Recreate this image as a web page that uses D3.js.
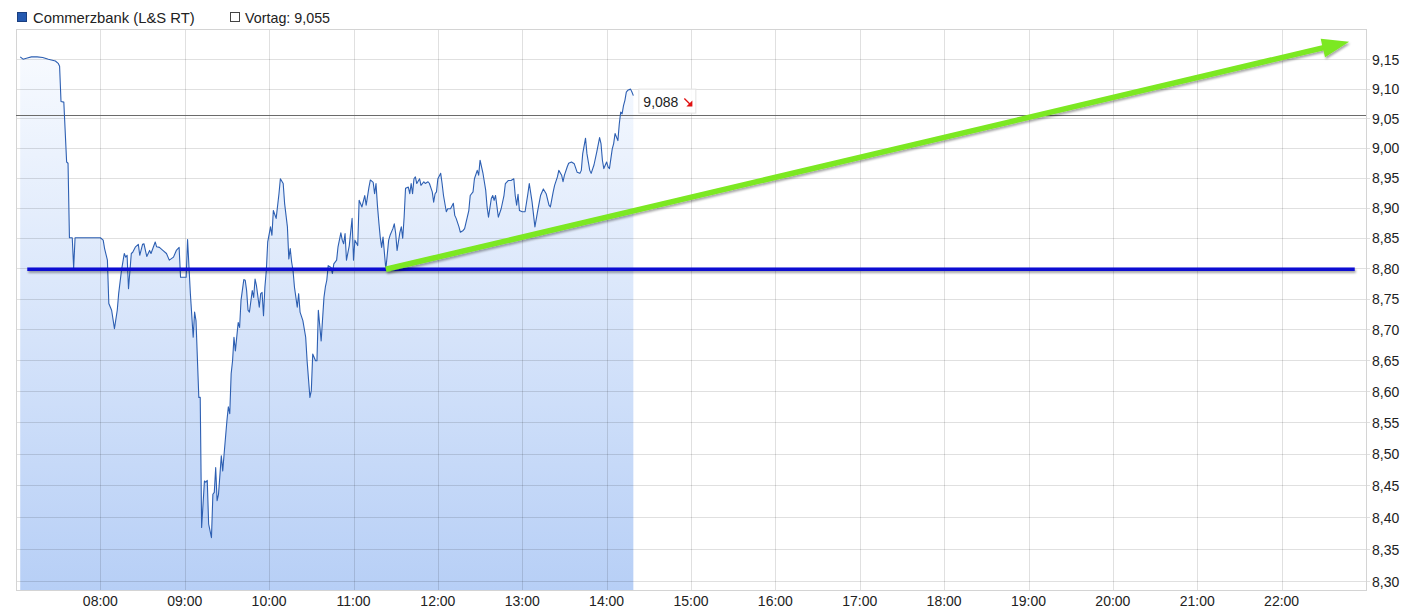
<!DOCTYPE html>
<html><head><meta charset="utf-8">
<script src="https://cdn.jsdelivr.net/npm/d3@7"></script>
<style>
body{margin:0;background:#fff;}
svg{display:block;font-family:"Liberation Sans",Arial,sans-serif;}
</style>
</head><body>
<svg id="c" width="1426" height="616"></svg>
<script>
// ---- data ----
const seriesName = "Commerzbank (L&S RT)";
const prevCloseLabel = "Vortag: 9,055";
const prevClose = 9.055;

const times = ["07:03","07:05","07:08","07:11","07:15","07:19","07:23","07:28","07:30","07:31","07:32","07:34","07:36","07:37","07:38","07:40","07:41","07:42","08:00","08:02","08:03","08:05","08:06","08:08","08:10","08:12","08:13","08:15","08:17","08:18","08:19","08:20","08:22","08:23","08:25","08:27","08:28","08:30","08:31","08:33","08:35","08:36","08:39","08:40","08:42","08:44","08:47","08:49","08:52","08:54","08:56","08:57","09:01","09:02","09:04","09:06","09:07","09:08","09:10","09:11","09:12","09:14","09:15","09:16","09:17","09:19","09:20","09:21","09:22","09:23","09:24","09:26","09:27","09:28","09:30","09:31","09:32","09:33","09:34","09:35","09:36","09:38","09:39","09:40","09:42","09:43","09:44","09:45","09:46","09:48","09:49","09:50","09:51","09:53","09:54","09:55","09:56","09:57","09:58","09:59","10:01","10:02","10:03","10:05","10:07","10:08","10:10","10:11","10:13","10:14","10:15","10:16","10:17","10:18","10:20","10:21","10:22","10:24","10:26","10:27","10:29","10:30","10:31","10:33","10:34","10:35","10:36","10:37","10:39","10:40","10:41","10:42","10:44","10:45","10:46","10:48","10:49","10:51","10:52","10:53","10:54","10:55","10:57","10:59","11:00","11:01","11:03","11:04","11:06","11:08","11:09","11:11","11:12","11:14","11:15","11:16","11:17","11:18","11:19","11:20","11:21","11:23","11:25","11:26","11:28","11:29","11:30","11:31","11:33","11:34","11:35","11:36","11:37","11:39","11:40","11:41","11:42","11:43","11:44","11:45","11:47","11:48","11:50","11:51","11:53","11:54","11:56","11:57","11:58","11:59","12:00","12:02","12:03","12:04","12:06","12:07","12:09","12:11","12:12","12:13","12:15","12:16","12:18","12:19","12:22","12:23","12:25","12:26","12:28","12:29","12:30","12:32","12:34","12:35","12:36","12:38","12:39","12:40","12:41","12:43","12:45","12:47","12:48","12:50","12:52","12:54","12:55","12:56","12:57","12:58","13:00","13:02","13:04","13:05","13:07","13:09","13:11","13:13","13:15","13:17","13:19","13:20","13:22","13:23","13:25","13:26","13:28","13:29","13:30","13:32","13:33","13:35","13:37","13:39","13:41","13:42","13:43","13:45","13:46","13:48","13:49","13:51","13:53","13:55","13:56","13:57","13:58","14:00","14:01","14:02","14:04","14:05","14:06","14:08","14:09","14:10","14:11","14:12","14:13","14:14","14:15","14:17","14:18","14:19"];

const prices = [9.154,9.150,9.152,9.154,9.154,9.153,9.150,9.147,9.143,9.138,9.078,9.077,8.976,8.974,8.850,8.850,8.800,8.850,8.850,8.846,8.832,8.813,8.742,8.731,8.701,8.731,8.758,8.796,8.824,8.818,8.821,8.766,8.824,8.826,8.835,8.839,8.821,8.839,8.840,8.819,8.829,8.824,8.843,8.835,8.834,8.830,8.824,8.813,8.818,8.829,8.834,8.785,8.785,8.847,8.758,8.687,8.728,8.714,8.590,8.590,8.384,8.457,8.455,8.458,8.389,8.368,8.436,8.439,8.478,8.426,8.436,8.497,8.473,8.500,8.553,8.575,8.564,8.628,8.649,8.687,8.665,8.711,8.703,8.747,8.781,8.780,8.763,8.731,8.728,8.763,8.752,8.782,8.771,8.736,8.758,8.760,8.722,8.769,8.796,8.843,8.868,8.854,8.895,8.882,8.923,8.948,8.940,8.907,8.868,8.815,8.832,8.810,8.796,8.769,8.736,8.758,8.728,8.714,8.687,8.649,8.590,8.601,8.660,8.649,8.649,8.731,8.706,8.681,8.752,8.769,8.780,8.804,8.801,8.791,8.807,8.813,8.835,8.858,8.846,8.840,8.857,8.813,8.837,8.882,8.813,8.846,8.837,8.912,8.901,8.920,8.904,8.934,8.946,8.942,8.923,8.940,8.904,8.876,8.851,8.834,8.851,8.798,8.846,8.854,8.865,8.873,8.857,8.829,8.859,8.868,8.849,8.884,8.932,8.934,8.923,8.940,8.923,8.948,8.951,8.940,8.948,8.937,8.943,8.940,8.943,8.940,8.926,8.909,8.923,8.926,8.948,8.957,8.940,8.920,8.893,8.898,8.898,8.907,8.887,8.882,8.868,8.859,8.862,8.865,8.895,8.920,8.926,8.948,8.962,8.954,8.979,8.958,8.929,8.901,8.884,8.915,8.920,8.912,8.920,8.884,8.898,8.920,8.940,8.945,8.945,8.948,8.920,8.904,8.922,8.895,8.893,8.893,8.923,8.940,8.909,8.868,8.895,8.920,8.931,8.923,8.904,8.901,8.926,8.937,8.951,8.962,8.954,8.943,8.954,8.968,8.974,8.976,8.973,8.959,8.957,8.962,8.990,9.016,8.990,8.962,8.957,8.971,8.993,9.017,9.007,8.979,8.965,8.976,8.968,8.965,8.998,9.007,9.024,9.012,9.040,9.060,9.057,9.071,9.080,9.094,9.097,9.099,9.094,9.088];

const yTickValues = [8.30,8.35,8.40,8.45,8.50,8.55,8.60,8.65,8.70,8.75,8.80,8.85,8.90,8.95,9.00,9.05,9.10,9.15];
const xTickLabels = ["08:00","09:00","10:00","11:00","12:00","13:00","14:00","15:00","16:00","17:00","18:00","19:00","20:00","21:00","22:00"];
const timeDomain = ["07:00","23:00"];

// hand-drawn annotations (time, value)
const supportLine = {from:"07:08", to:"22:52", value:8.798};
const trendArrow = {fromTime:"11:23", fromValue:8.798, toTime:"22:48", toValue:9.18};

// ---- drawing ----
const parse = d3.timeParse("%H:%M");
const data = times.map((t,i)=>({t:parse(t), v:prices[i]}));

const L = 16, R = 1366, T = 29.5, B = 590.5;
const x = d3.scaleTime().domain(timeDomain.map(parse)).range([L, R]);
const y = d3.scaleLog().domain([8.30, 9.15]).range([581.3, 59.2]);
const fmt = v => d3.format(".2f")(v).replace(".", ",");

const svg = d3.select("#c");
const defs = svg.append("defs");
const grad = defs.append("linearGradient").attr("id","fillGrad")
  .attr("gradientUnits","userSpaceOnUse").attr("x1",0).attr("y1",T).attr("x2",0).attr("y2",B);
grad.append("stop").attr("offset",0).attr("stop-color","#fafcff");
grad.append("stop").attr("offset",1).attr("stop-color","#b7cff6");
const sh = defs.append("filter").attr("id","shadow").attr("filterUnits","userSpaceOnUse")
  .attr("x",0).attr("y",0).attr("width",1426).attr("height",616);
sh.append("feDropShadow").attr("dx",1).attr("dy",2).attr("stdDeviation",1.2)
  .attr("flood-color","#000").attr("flood-opacity",0.35);

// area fill
svg.append("path").datum(data)
  .attr("d", d3.area().x(d=>x(d.t)).y0(B).y1(d=>y(d.v)))
  .attr("fill","url(#fillGrad)");

// grid
const g = svg.append("g");
g.selectAll("line.h").data(yTickValues).join("line")
  .attr("x1",L).attr("x2",R+4).attr("y1",d=>Math.round(y(d))+0.5).attr("y2",d=>Math.round(y(d))+0.5)
  .attr("stroke","rgba(0,0,0,0.12)");
g.selectAll("line.v").data(xTickLabels).join("line")
  .attr("x1",d=>Math.round(x(parse(d)))+0.5).attr("x2",d=>Math.round(x(parse(d)))+0.5)
  .attr("y1",T).attr("y2",B)
  .attr("stroke","rgba(0,0,0,0.12)");
// frame
svg.append("rect").attr("x",L+0.5).attr("y",T).attr("width",R-L).attr("height",B-T)
  .attr("fill","none").attr("stroke","#d4d4d4");

// axes labels
svg.append("g").selectAll("text").data(yTickValues).join("text")
  .attr("x",1372).attr("y",d=>y(d)+5.5).attr("font-size",14).attr("fill","#222").text(fmt);
svg.append("g").selectAll("text").data(xTickLabels).join("text")
  .attr("x",d=>x(parse(d))).attr("y",606).attr("text-anchor","middle")
  .attr("font-size",14).attr("fill","#222").text(d=>d);

// previous close line
svg.append("line").attr("x1",L).attr("x2",R).attr("y1",Math.round(y(prevClose))+0.5).attr("y2",Math.round(y(prevClose))+0.5)
  .attr("stroke","#6a6a6a").attr("stroke-width",1);

// price line
svg.append("path").datum(data)
  .attr("d", d3.line().x(d=>x(d.t)).y(d=>y(d.v)))
  .attr("fill","none").attr("stroke","#2d5fb2").attr("stroke-width",1.1).attr("stroke-linejoin","round");

// support line (annotation)
svg.append("line")
  .attr("x1",x(parse(supportLine.from))).attr("x2",x(parse(supportLine.to)))
  .attr("y1",y(supportLine.value)).attr("y2",y(supportLine.value))
  .attr("stroke","#0a0ad2").attr("stroke-width",3.5).attr("filter","url(#shadow)");

// trend arrow (annotation)
const sx = x(parse(trendArrow.fromTime)), sy = y(trendArrow.fromValue);
const tx = x(parse(trendArrow.toTime)), ty = y(trendArrow.toValue);
const len = Math.hypot(tx-sx, ty-sy), ux=(tx-sx)/len, uy=(ty-sy)/len, nx=-uy, ny=ux;
const hl = 27, hw = 9.5, bx = tx-hl*ux, by = ty-hl*uy;
const ag = svg.append("g").attr("filter","url(#shadow)");
ag.append("line").attr("x1",sx).attr("y1",sy).attr("x2",bx+2*ux).attr("y2",by+2*uy)
  .attr("stroke","#7be820").attr("stroke-width",5.5);
ag.append("path").attr("d",`M${tx},${ty}L${bx+hw*nx},${by+hw*ny}L${bx-hw*nx},${by-hw*ny}Z`)
  .attr("fill","#7be820");

// last price label
const last = data[data.length-1];
const lx = x(last.t)+5, ly = y(last.v);
svg.append("rect").attr("x",lx+0.5).attr("y",ly-6.5).attr("width",57).attr("height",24)
  .attr("fill","rgba(255,255,255,0.9)").attr("stroke","#e2e2e2");
svg.append("text").attr("x",lx+5).attr("y",ly+11).attr("font-size",14).attr("fill","#222")
  .text(d3.format(".3f")(last.v).replace(".",","));
const ax = lx+46, ay = ly+3;
svg.append("path").attr("d",`M${ax},${ay}L${ax+6},${ay+6}`).attr("stroke","#e01010").attr("stroke-width",1.4);
svg.append("path").attr("d",`M${ax+8},${ay+8}L${ax+2},${ay+8}L${ax+8},${ay+2}Z`).attr("fill","#e01010");

// legend
svg.append("rect").attr("x",17.5).attr("y",12.5).attr("width",9).attr("height",9)
  .attr("fill","#2459b0").attr("stroke","#1a3f80");
svg.append("text").attr("x",33).attr("y",22.5).attr("font-size",14.8).attr("fill","#222").text(seriesName);
svg.append("rect").attr("x",230.5).attr("y",12.5).attr("width",9).attr("height",9)
  .attr("fill","#fff").attr("stroke","#444");
svg.append("text").attr("x",245).attr("y",22.5).attr("font-size",14.3).attr("fill","#222").text(prevCloseLabel);
</script>
</body></html>
